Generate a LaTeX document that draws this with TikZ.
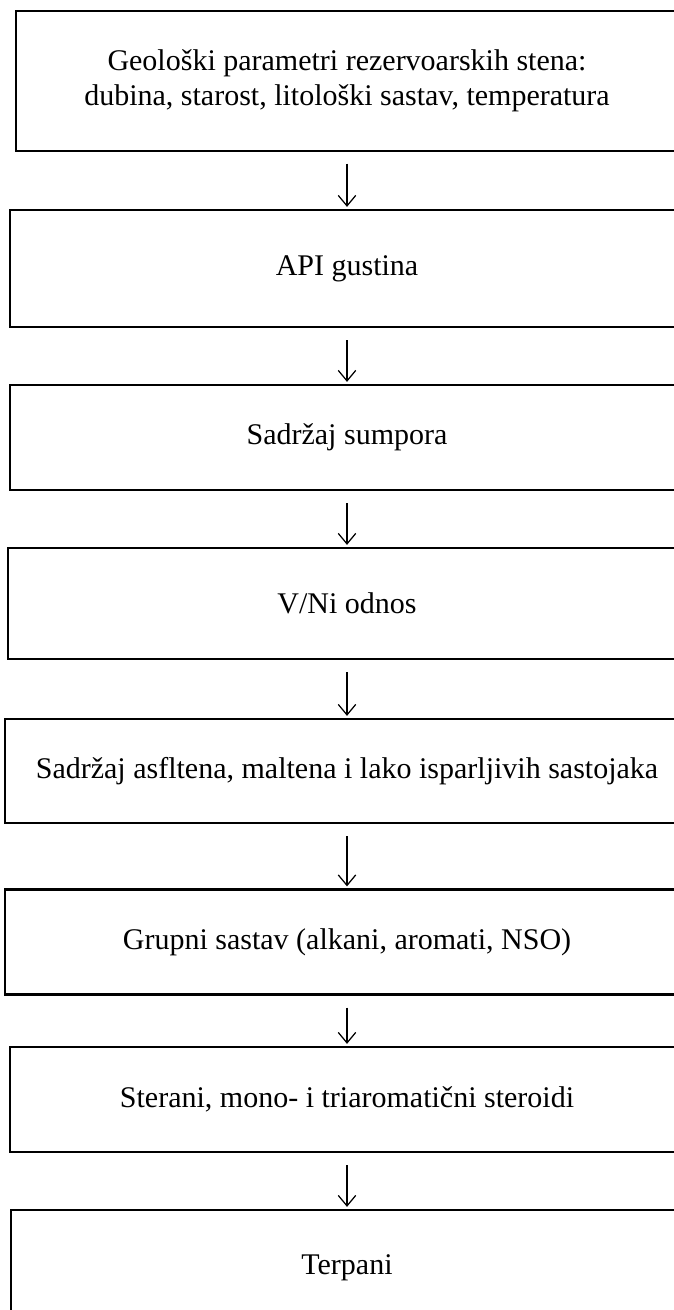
\documentclass[tikz,border=0pt]{standalone}
\usepackage{fontspec}
\setmainfont{Liberation Serif}
\usetikzlibrary{arrows.meta,calc}
\begin{document}
\begin{tikzpicture}[x=0.4pt,y=-0.4pt,
  stagebox/.style={draw, rectangle, line width=0.9pt, inner sep=0pt, align=center,
    font=\fontsize{12}{13.8}\selectfont},
  flowarrow/.style={line width=0.5pt, -{Straight Barb[length=4.2pt,width=7pt]}}]
\useasboundingbox (0,0) rectangle (673,1310);
\node[stagebox, line width=0.6pt, minimum width=264.8pt, minimum height=56pt] (b1) at (347,81)
  {Geološki parametri rezervoarskih stena:\\dubina, starost, litološki sastav, temperatura};
\node[stagebox, minimum width=269.6pt, minimum height=46.8pt] (b2) at (347,268.5) {API gustina};
\node[stagebox, minimum width=269.6pt, minimum height=42pt] (b3) at (347,437.5) {Sadržaj sumpora};
\node[stagebox, minimum width=271.2pt, minimum height=44.4pt] (b4) at (347,603.5) {V/Ni odnos};
\node[stagebox, minimum width=273.6pt, minimum height=41.6pt] (b5) at (347,771) {Sadržaj asfltena, maltena i lako isparljivih sastojaka};
\node[stagebox, minimum width=273.6pt, minimum height=42pt] (b6) at (347,942) {Grupni sastav (alkani, aromati, NSO)};
\node[stagebox, minimum width=269.6pt, minimum height=42pt] (b7) at (347,1099.5) {Sterani, mono- i triaromatični steroidi};
\node[stagebox, minimum width=268.8pt, minimum height=46.4pt] (b8) at (347,1268) {Terpani};
\foreach \a/\b in {b1/b2,b2/b3,b3/b4,b4/b5,b5/b6,b6/b7,b7/b8}
  \draw[flowarrow] ($(\a.south)+(0,12)$) -- ($(\b.north)+(0,-2)$);
\end{tikzpicture}
\end{document}
